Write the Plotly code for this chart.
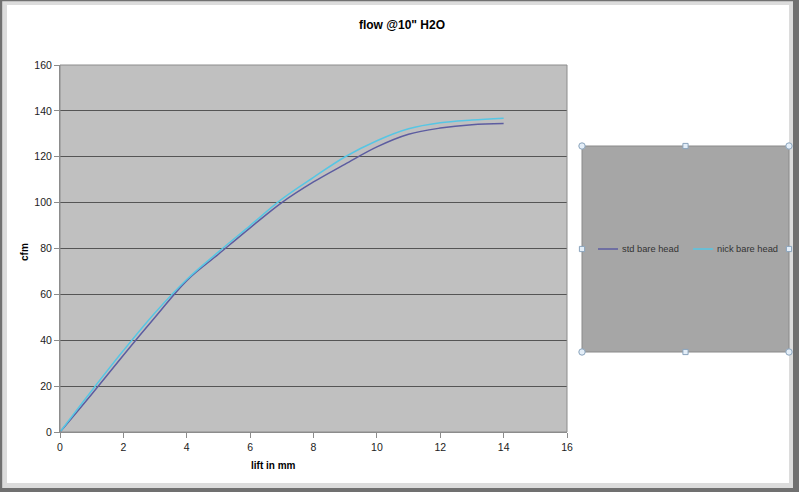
import plotly.graph_objects as go

# ---- data ----
lift_mm = [0, 1, 2, 3, 4, 5, 6, 7, 8, 9, 10, 11, 12, 13, 14]
std_bare_head = [0, 16.5, 33.5, 50, 66, 77.5, 89, 100, 109, 116.8, 124.3, 129.8, 132.5, 134, 134.5]
nick_bare_head = [0, 18, 35.5, 52, 66.5, 78.5, 90, 101.5, 111, 120, 127, 132.2, 134.8, 136, 136.8]
series_names = ["std bare head", "nick bare head"]
series_colors = ["#5c5ca0", "#56c6e4"]
x_ticks = [0, 2, 4, 6, 8, 10, 12, 14, 16]
y_ticks = [0, 20, 40, 60, 80, 100, 120, 140, 160]

W, H = 799, 492
L, R, T, B = 60, 567, 65, 432   # plot area in pixels

def px(xp):
    return (xp - L) / (R - L)

def py(yp):
    return (B - yp) / (B - T)

FONT = "Liberation Sans, Arial, sans-serif"

fig = go.Figure()
for ys, name, col in zip([std_bare_head, nick_bare_head], series_names, series_colors):
    fig.add_trace(go.Scatter(x=lift_mm, y=ys, mode="lines", name=name, showlegend=False,
                             line=dict(color=col, width=1.5, shape="spline", smoothing=1.0)))

shapes = []

def rect(x0, y0, x1, y1, fill, line=None, layer="below", lw=0):
    return dict(type="rect", xref="paper", yref="paper",
                x0=px(x0), x1=px(x1), y0=py(y0), y1=py(y1),
                fillcolor=fill, line=dict(width=lw, color=line or fill), layer=layer)

# window frame: light inner band, dark outer edge
shapes += [
    rect(0, 1, W, 5, "#dcdcdc"),
    rect(2, 0, 7, H, "#dcdcdc"),
    rect(789, 0, 793, H, "#dcdcdc"),
    rect(0, 483, W, 488, "#dcdcdc"),
    rect(0, 0, W, 1.2, "#707070"),
    rect(0, 0, 2.2, H, "#707070"),
    rect(793, 0, W, H, "#707070"),
    rect(0, 488, W, H, "#707070"),
]
# plot area border (covers grid lines at 0 and 160)
shapes.append(dict(type="rect", xref="paper", yref="paper", x0=0, x1=1, y0=0, y1=1,
                   line=dict(color="#8c8c8c", width=1), fillcolor="rgba(0,0,0,0)", layer="above"))
# legend box
shapes.append(rect(582, 146, 789, 352, "#a6a6a6", line="#8a8a8a", lw=1))
# legend line samples
for (x0, x1), col in zip([(598, 618), (693, 713)], series_colors):
    shapes.append(dict(type="line", xref="paper", yref="paper", x0=px(x0), x1=px(x1),
                       y0=py(249), y1=py(249), line=dict(color=col, width=1.5), layer="above"))
# selection handles
for hx, hy, kind in [(582, 146, "circle"), (789, 146, "circle"), (582, 352, "circle"), (789, 352, "circle"),
                     (685.5, 146, "rect"), (685.5, 352, "rect"), (582, 249, "rect"), (789, 249, "rect")]:
    r = 3.2 if kind == "circle" else 2.6
    shapes.append(dict(type=kind, xref="paper", yref="paper",
                       x0=px(hx - r), x1=px(hx + r), y0=py(hy + r), y1=py(hy - r),
                       fillcolor="#e4eef8", line=dict(color="#8aa4bc", width=1), layer="above"))

annotations = [
    dict(text="<b>cfm</b>", x=px(24), y=py(252), xref="paper", yref="paper", showarrow=False,
         xanchor="center", yanchor="middle", textangle=-90, font=dict(family=FONT, size=10, color="#000")),
    dict(text="<b>lift in mm</b>", x=px(273), y=py(465), xref="paper", yref="paper", showarrow=False,
         xanchor="center", yanchor="middle", font=dict(family=FONT, size=10, color="#000")),
]
for tx, name in zip([620, 715], series_names):
    annotations.append(dict(text=name, x=px(tx), y=py(249), xref="paper", yref="paper", showarrow=False,
                            xanchor="left", yanchor="middle",
                            font=dict(family=FONT, size=9.3, color="#333")))

fig.update_layout(
    width=W, height=H,
    margin=dict(l=L, r=W - R, t=T, b=H - B, autoexpand=False),
    paper_bgcolor="white",
    plot_bgcolor="#c0c0c0",
    title=dict(text="<b>flow @10\" H2O</b>", x=402 / W, xanchor="center",
               y=1 - 25 / H, yanchor="middle", font=dict(family=FONT, size=12, color="#000")),
    font=dict(family=FONT, size=10.5, color="#222"),
    showlegend=False,
    shapes=shapes,
    annotations=annotations,
)
fig.update_xaxes(range=[0, 16], tickvals=x_ticks, ticktext=[str(v) for v in x_ticks],
                 showgrid=False, zeroline=False, showline=True, linecolor="#8c8c8c", linewidth=1,
                 ticks="outside", ticklen=5, tickcolor="#8c8c8c", tickfont=dict(size=10.5, color="#222"))
fig.update_yaxes(range=[0, 160], tickvals=y_ticks, ticktext=[str(v) for v in y_ticks],
                 showgrid=True, gridcolor="#555555", gridwidth=1, zeroline=False,
                 showline=True, linecolor="#8c8c8c", linewidth=1,
                 ticks="outside", ticklen=5, tickcolor="#8c8c8c", tickfont=dict(size=10.5, color="#222"))

fig.write_html("out.html", config={"displayModeBar": False})

# remove the default page margin so the figure sits at the window's top-left corner
with open("out.html", encoding="utf-8") as f:
    html = f.read()
html = html.replace("<head>", "<head><style>html,body{margin:0;padding:0;overflow:hidden;}</style>", 1)
with open("out.html", "w", encoding="utf-8") as f:
    f.write(html)
